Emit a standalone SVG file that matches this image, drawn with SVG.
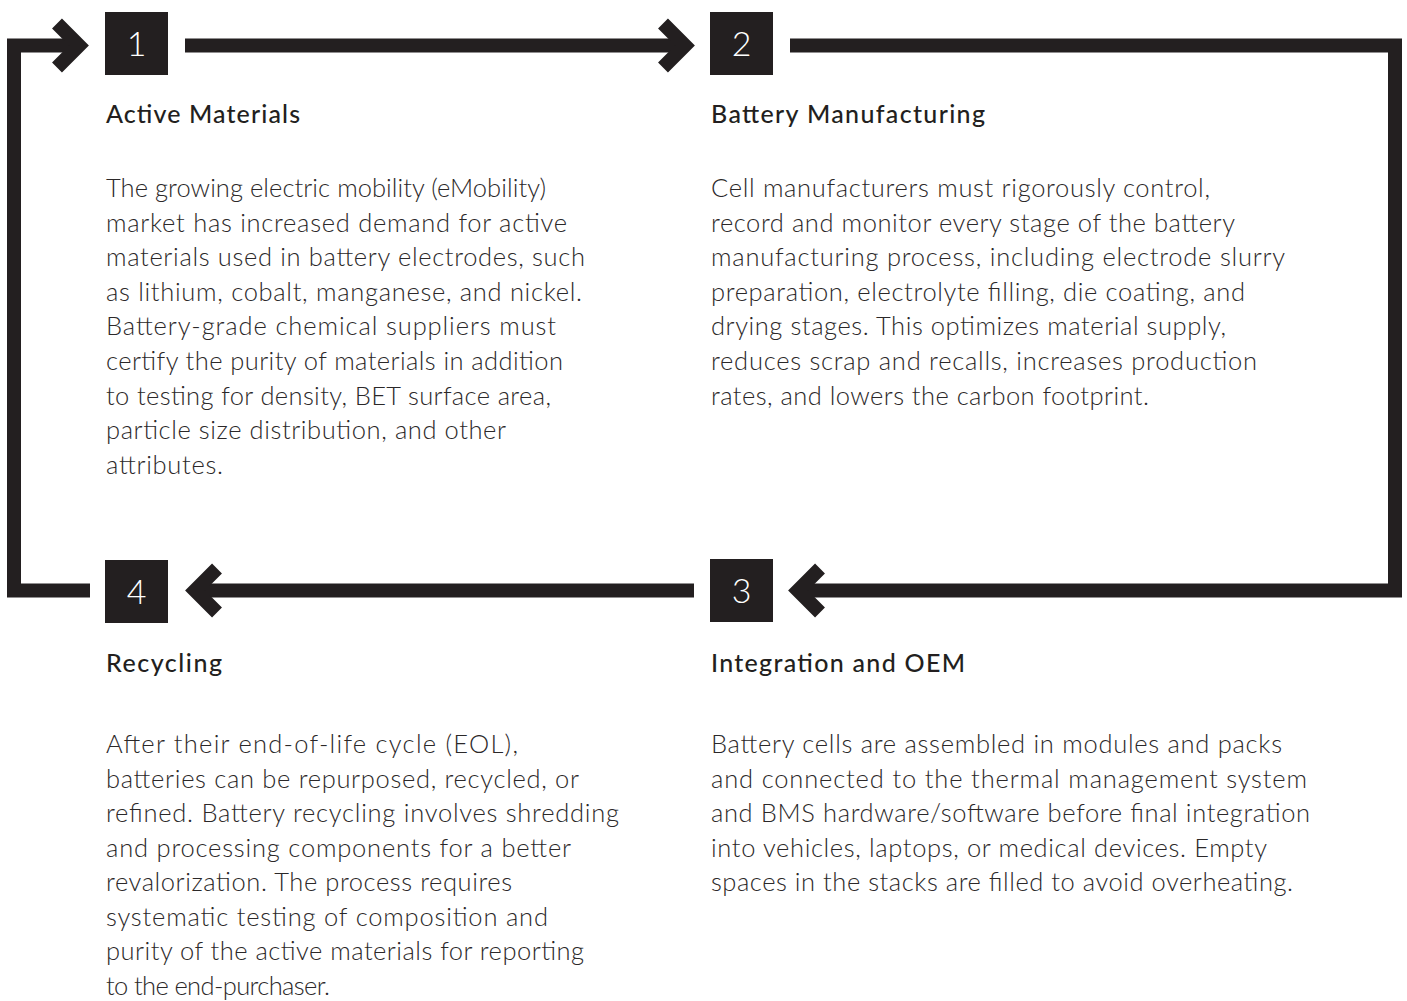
<svg xmlns="http://www.w3.org/2000/svg" width="1407" height="1001" viewBox="0 0 1407 1001">
<style>
.box{fill:#231f20}
.num{fill:#ffffff;font-family:Lato,"Liberation Sans",sans-serif;font-size:34px;font-weight:300;text-anchor:middle}
.h{fill:#231f20;font-family:Lato,"Liberation Sans",sans-serif;font-size:25px;font-weight:500}
.b{fill:#2b2829;font-family:Lato,"Liberation Sans",sans-serif;font-size:25.5px;font-weight:300}
.ln{fill:none;stroke:#231f20;stroke-width:14;stroke-linejoin:miter;stroke-linecap:butt;stroke-miterlimit:4}
</style>
<rect width="1407" height="1001" fill="#ffffff"/>
<g id="connectors">
<path class="ln" d="M90 590.5 H14 V45.5 H80"/>
<polyline class="ln" points="57,23.5 79,45.5 57,67.5"/>
<path class="ln" d="M185 45.5 H685"/>
<polyline class="ln" points="663,23.5 685,45.5 663,67.5"/>
<path class="ln" d="M790 45.5 H1395 V590.5 H803"/>
<polyline class="ln" points="820,568.5 798,590.5 820,612.5"/>
<path class="ln" d="M694 590.5 H200"/>
<polyline class="ln" points="217,568.5 195,590.5 217,612.5"/>
</g>
<g id="node1">
<rect class="box" x="105" y="12" width="63" height="63"/>
<text class="num" x="136.5" y="56">1</text>
<text class="h" x="106" y="123" textLength="194" lengthAdjust="spacing">Active Materials</text>
<text class="b" x="106" y="197" textLength="440" lengthAdjust="spacing">The growing electric mobility (eMobility)</text>
<text class="b" x="106" y="231.6" textLength="461" lengthAdjust="spacing">market has increased demand for active</text>
<text class="b" x="106" y="266.2" textLength="479" lengthAdjust="spacing">materials used in battery electrodes, such</text>
<text class="b" x="106" y="300.8" textLength="476" lengthAdjust="spacing">as lithium, cobalt, manganese, and nickel.</text>
<text class="b" x="106" y="335.4" textLength="450" lengthAdjust="spacing">Battery-grade chemical suppliers must</text>
<text class="b" x="106" y="370" textLength="457" lengthAdjust="spacing">certify the purity of materials in addition</text>
<text class="b" x="106" y="404.6" textLength="445" lengthAdjust="spacing">to testing for density, BET surface area,</text>
<text class="b" x="106" y="439.2" textLength="400" lengthAdjust="spacing">particle size distribution, and other</text>
<text class="b" x="106" y="473.8" textLength="117" lengthAdjust="spacing">attributes.</text>
</g>
<g id="node2">
<rect class="box" x="710" y="12" width="63" height="63"/>
<text class="num" x="741.5" y="56">2</text>
<text class="h" x="711" y="123" textLength="274" lengthAdjust="spacing">Battery Manufacturing</text>
<text class="b" x="711" y="197" textLength="499" lengthAdjust="spacing">Cell manufacturers must rigorously control,</text>
<text class="b" x="711" y="231.6" textLength="524" lengthAdjust="spacing">record and monitor every stage of the battery</text>
<text class="b" x="711" y="266.2" textLength="574" lengthAdjust="spacing">manufacturing process, including electrode slurry</text>
<text class="b" x="711" y="300.8" textLength="534" lengthAdjust="spacing">preparation, electrolyte filling, die coating, and</text>
<text class="b" x="711" y="335.4" textLength="515" lengthAdjust="spacing">drying stages. This optimizes material supply,</text>
<text class="b" x="711" y="370" textLength="546" lengthAdjust="spacing">reduces scrap and recalls, increases production</text>
<text class="b" x="711" y="404.6" textLength="438" lengthAdjust="spacing">rates, and lowers the carbon footprint.</text>
</g>
<g id="node3">
<rect class="box" x="710" y="559" width="63" height="63"/>
<text class="num" x="741.5" y="603">3</text>
<text class="h" x="711" y="672" textLength="254" lengthAdjust="spacing">Integration and OEM</text>
<text class="b" x="711" y="753" textLength="571" lengthAdjust="spacing">Battery cells are assembled in modules and packs</text>
<text class="b" x="711" y="787.5" textLength="596" lengthAdjust="spacing">and connected to the thermal management system</text>
<text class="b" x="711" y="822" textLength="599" lengthAdjust="spacing">and BMS hardware/software before final integration</text>
<text class="b" x="711" y="856.5" textLength="556" lengthAdjust="spacing">into vehicles, laptops, or medical devices. Empty</text>
<text class="b" x="711" y="891" textLength="582" lengthAdjust="spacing">spaces in the stacks are filled to avoid overheating.</text>
</g>
<g id="node4">
<rect class="box" x="105" y="560" width="63" height="63"/>
<text class="num" x="136.5" y="604">4</text>
<text class="h" x="106" y="672" textLength="116" lengthAdjust="spacing">Recycling</text>
<text class="b" x="106" y="753" textLength="412" lengthAdjust="spacing">After their end-of-life cycle (EOL),</text>
<text class="b" x="106" y="787.5" textLength="473" lengthAdjust="spacing">batteries can be repurposed, recycled, or</text>
<text class="b" x="106" y="822" textLength="513" lengthAdjust="spacing">refined. Battery recycling involves shredding</text>
<text class="b" x="106" y="856.5" textLength="465" lengthAdjust="spacing">and processing components for a better</text>
<text class="b" x="106" y="891" textLength="406" lengthAdjust="spacing">revalorization. The process requires</text>
<text class="b" x="106" y="925.5" textLength="442" lengthAdjust="spacing">systematic testing of composition and</text>
<text class="b" x="106" y="960" textLength="478" lengthAdjust="spacing">purity of the active materials for reporting</text>
<text class="b" x="106" y="994.5" textLength="224" lengthAdjust="spacing">to the end-purchaser.</text>
</g>
</svg>
